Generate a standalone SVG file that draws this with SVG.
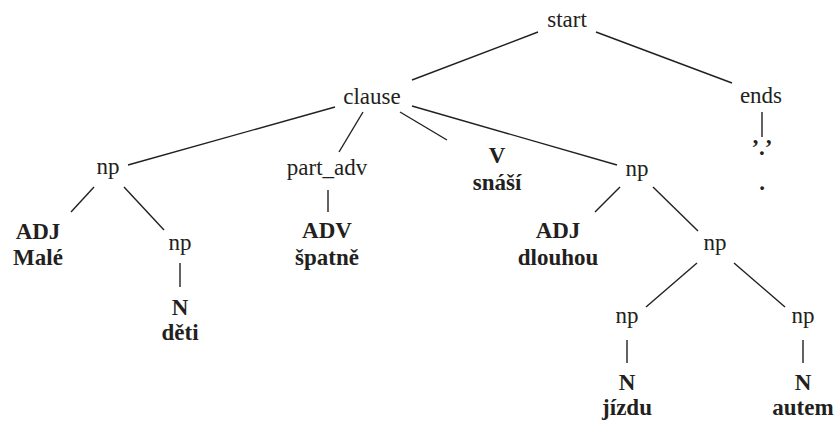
<svg xmlns="http://www.w3.org/2000/svg" width="835" height="421" viewBox="0 0 835 421" font-family="'Liberation Serif', 'DejaVu Serif', serif">
<style>
text{font-family:'Liberation Serif','DejaVu Serif',serif;font-size:23px;fill:#231f20;text-anchor:middle}
.b{font-weight:bold}
#edges line{stroke:#231f20;stroke-width:1.4}
</style>
<rect width="835" height="421" fill="#fff"/>
<g id="edges">
<line x1="538" y1="32" x2="412" y2="80"/>
<line x1="596" y1="32" x2="732" y2="83"/>
<line x1="335" y1="107" x2="128" y2="165"/>
<line x1="363" y1="112" x2="339" y2="152"/>
<line x1="400" y1="112" x2="447" y2="140"/>
<line x1="412" y1="106" x2="617" y2="165"/>
<line x1="762" y1="112" x2="762" y2="137"/>
<line x1="94" y1="187" x2="71" y2="212"/>
<line x1="124" y1="187" x2="164" y2="230"/>
<line x1="180" y1="263" x2="180" y2="287"/>
<line x1="328" y1="190" x2="328" y2="212"/>
<line x1="620" y1="187" x2="595" y2="212"/>
<line x1="653" y1="187" x2="698" y2="231"/>
<line x1="697" y1="263" x2="646" y2="307"/>
<line x1="734" y1="263" x2="785" y2="307"/>
<line x1="627" y1="340" x2="627" y2="363"/>
<line x1="803" y1="340" x2="803" y2="363"/>
</g>
<g id="start"><text x="567" y="27">start</text></g>
<g id="clause"><text x="372" y="104">clause</text></g>
<g id="ends"><text x="761" y="103">ends</text></g>
<g id="ends-term"><text class="b" x="762" y="155">’.’</text><text class="b" x="762" y="190">.</text></g>
<g id="np1"><text x="108" y="174">np</text></g>
<g id="adj1"><text class="b" x="38" y="239">ADJ</text><text class="b" x="38" y="265">Malé</text></g>
<g id="np2"><text x="180" y="250">np</text></g>
<g id="n1"><text class="b" x="180" y="315">N</text><text class="b" x="180" y="340">děti</text></g>
<g id="part_adv"><text x="327" y="175">part_adv</text></g>
<g id="adv"><text class="b" x="327" y="238">ADV</text><text class="b" x="327" y="265">špatně</text></g>
<g id="v"><text class="b" x="497" y="163">V</text><text class="b" x="497" y="190">snáší</text></g>
<g id="np3"><text x="637" y="176">np</text></g>
<g id="adj2"><text class="b" x="558" y="238">ADJ</text><text class="b" x="558" y="265">dlouhou</text></g>
<g id="np4"><text x="715" y="250">np</text></g>
<g id="np5"><text x="627" y="323">np</text></g>
<g id="np6"><text x="803" y="323">np</text></g>
<g id="n2"><text class="b" x="627" y="390">N</text><text class="b" x="627" y="415">jízdu</text></g>
<g id="n3"><text class="b" x="803" y="390">N</text><text class="b" x="803" y="415">autem</text></g>
</svg>
